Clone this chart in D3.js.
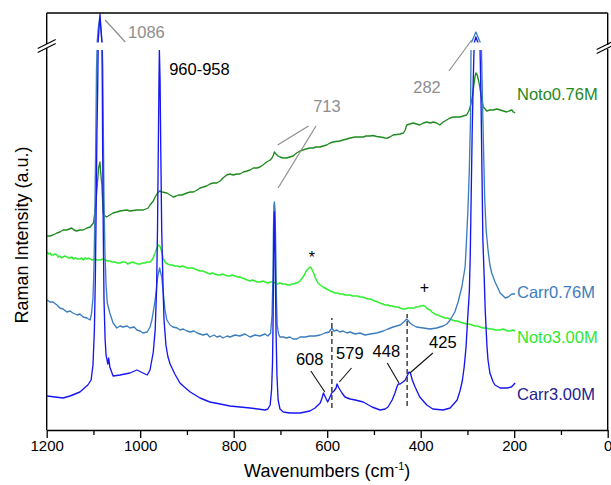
<!DOCTYPE html>
<html>
<head>
<meta charset="utf-8">
<script src="https://cdn.jsdelivr.net/npm/d3@7"></script>
<style>
  html, body { margin: 0; padding: 0; background: #fff; }
  svg { display: block; font-family: "Liberation Sans", Arial, Helvetica, sans-serif; }
</style>
</head>
<body>
<svg id="chart" width="611" height="485"></svg>
<script>
// Raman spectra: [wavenumber (cm-1), intensity (a.u., offset traces)].
// The intensity axis is broken between 380 and 388.
const carr300 = [
  [1199,34],[1182,33],[1165,32],[1150,34],[1129,38],[1112,45],[1105,50],[1101,65],[1098,100],[1096,150],
  [1094,230],[1092.5,300],[1091,340],[1090,380],[1090,388],[1088,402],[1086,416],[1084,402],[1082,388],
  [1081.7,380],[1081,340],[1080.4,290],[1079,200],[1077.4,130],[1075,90],[1073,75],[1071,70],[1069,66],
  [1067.5,72],[1065.7,66],[1065,63],[1058,54],[1043,55],[1022,57],[1007,60],[994,57],[985,55],[979,60],
  [972,78],[968,100],[965,140],[963,200],[961.3,280],[959.8,350],[959,380],[957.5,350],[956,280],[954,200],
  [951,140],[949,110],[945,85],[940.6,73],[936,66],[932,62],[926,56],[921,52],[915,47],[908,44],[893,38],
  [872,32],[851,28],[829,26],[808,24],[765,22],[733,20],[727,21],[722,25],[719,40],[717,67],[716,100],
  [715,150],[714,200],[713,218],[712,205],[711,160],[709.5,100],[707.5,55],[705,30],[701,21],[694,18],
  [680,17],[658,17],[637,19],[626,22],[615,27],[611,32],[608,37],[603,32],[599,28],[595,32],[590.4,37],
  [585.5,39],[581,42],[579,46],[575,42],[568.4,37],[562,33],[551,31],[540,30],[523,28],[504,23],[487,20],
  [476,21],[470,23],[461,30],[455,37],[451,43],[448,46],[444,46],[438,48],[433,50],[429,54],[425,58],
  [422,57],[418,50],[412,43],[402,33],[387,25],[374,21],[352,20],[337,22],[322,30],[316,39],[311,49],
  [307,63],[303,83],[300,108],[296,138],[294,175],[292,235],[290,295],[288,342],[286,380],[285,388],
  [282,393],[278,388],[273,380],[271,330],[269,260],[267,190],[264,150],[262,120],[260,100],[258,82],
  [256,70],[252,57],[245,48],[241,45],[230,42],[215,42],[206,43],[202,45],[198,47]
];

const carr076 = [
  [1199,130],[1193,128],[1186.5,128],[1178,125],[1172,122],[1165,121],[1157,118],[1150,119],[1144,117],
  [1135,115],[1129,116],[1122,113],[1114,112],[1107,110],[1104,117],[1101,132],[1099,160],[1097,215],
  [1095,290],[1093.5,360],[1092.4,380],[1092,388],[1089.6,402],[1086.5,412],[1084.3,402],[1081.7,388],
  [1081,380],[1080,360],[1078.7,290],[1077.4,230],[1075.3,175],[1073,145],[1070.4,127],[1065,117],
  [1058,107],[1050,102],[1043,104],[1037,103],[1028,104],[1022,102],[1013,103],[1007,100],[1000,99],
  [994,97],[985,98],[979,103],[975,110],[968,130],[962.6,153],[958.5,162],[954,153],[950.6,137],[947,120],
  [943,110],[936,105],[930,103],[921,102],[915,100],[908,101],[900,99],[893,98],[885,99],[878,97],[872,96],
  [866,95],[857,96],[851,93],[842,95],[836,93],[829,94],[823,92],[814,94],[808,93],[797,95],[787,94],
  [776,96],[765,93],[754.5,95],[744,94],[733,96],[727,94],[721,97],[718,115],[716,155],[715,200],[714,225],
  [713,228],[711.5,220],[710,180],[708.5,130],[707,105],[704,96],[701,93],[694,93],[687,92],[680,93],
  [673,91],[665,91],[658,93],[647,93],[637,94],[626,94],[615,95],[605,97],[596,98],[590,102],[585.5,99],
  [579,100],[573,98],[566,99],[558,97],[551,98],[540,96],[530,97],[519,95],[508,96],[494,97],[487,98],
  [480,99],[470,101],[459,103],[444,105],[436,108],[430,111],[426,109],[423,107],[417,105],[409,103],
  [394.5,102],[380,101],[366,102],[352,104],[344,106],[337,110],[327,118],[320,128],[312,143],[305,163],
  [302,190],[299,220],[296,260],[293.5,310],[292.4,380],[291,388],[282,398],[273,388],[270,380],[267,310],
  [265,270],[263,230],[260,200],[256,180],[252,165],[248,157],[241,148],[230,137],[219,132],[213,133],
  [205,136],[198,136]
];

const noto300 = [
  [1199,178],[1196,176],[1193,177],[1190,175],[1186.5,175],[1182,176],[1178,175],[1175,173],[1172,174],
  [1168,172],[1165,173],[1161,174],[1157,173],[1154,172],[1150,172],[1146,173],[1143,171],[1139,172],
  [1134,171],[1129,171],[1125,172],[1122,170],[1118,172],[1114,171],[1110,172],[1107,171],[1102,170],
  [1097,171],[1092,170],[1086,170],[1080,171],[1075,170],[1070,169],[1065,169],[1060,168],[1054,168],
  [1049,167],[1043,167],[1038,168],[1032,168],[1027,166],[1022,167],[1016,168],[1011,167],[1005,166],
  [1000,166],[995,167],[990,167],[985,168],[979,168],[975,170],[972,172],[970,175],[968,177],[966,180],
  [964,182],[962.5,184],[961,185],[958,184],[956.5,182],[955,180],[953,176],[951,172],[948,169],[945,167],
  [941,166],[936,165],[931,165],[926,164],[920,164],[915,163],[910,164],[904,163],[899,162],[893,162],
  [888,162],[883,161],[878,160],[872,159],[866,159],[861,158],[856,157],[851,156],[846,157],[840,156],
  [835,155],[829,155],[824,156],[819,155],[813,154],[808,154],[803,155],[797,154],[792,153],[787,153],
  [782,152],[776,151],[771,150],[765,149],[760,150],[754.5,149],[749,148],[744,148],[738,149],[733,148],
  [727,147],[722,148],[716,148],[711,147],[706,146],[701,147],[695,146],[690,146],[685,145],[680,145],
  [675,146],[671,146],[668,147],[665,147],[661,148],[658,149],[655,151],[652,153],[649,155],[647,157],
  [645,159],[643,160],[641,161],[639,162],[636,163],[634,162],[633,161],[630,158],[628,156],[626,153],
  [624,151],[622,149],[620,147],[617,146],[615,145],[612,144],[609,143],[605,142],[601,141],[597,140],
  [594,139],[588,138],[583,137],[578,137],[573,136],[567,136],[562,135],[556,135],[551,135],[546,134],
  [540,134],[535,134],[530,133],[524,133],[519,132],[513,131],[508,131],[503,130],[498,129],[492,128],
  [487,127],[481,126],[476,125],[470,125],[465,124],[460,124],[455,123],[449,123],[444,122],[438,121],
  [433,121],[428,122],[423,122],[418,122],[414,122],[411,123],[408,123],[405,123],[402,124],[398,124],
  [395,124.5],[392,124],[389,123],[385,121],[380,120],[376,118],[373,117],[369,116],[366,115],[362,115],
  [359,114],[353,113],[348,112],[343,112],[337,111],[332,110],[327,109],[321,109],[316,108],[309,107],
  [302,106],[296,106],[290,105],[284,104],[279,104],[273,103],[267,102],[260,102],[252,101],[246,101],
  [241,100],[235,100],[230,100],[224,101],[219,100],[214,99],[209,99],[203,100],[198,99]
];

const noto076 = [
  [1199,194],[1193,194],[1186.5,195],[1178,197],[1172,198],[1165,200],[1157,200],[1146.5,202],[1141.6,200],
  [1136,199],[1129,200],[1122,200],[1114,202],[1107,203],[1100,207],[1097,218],[1093.5,235],[1091,250],
  [1089,262],[1086,268],[1085,260],[1082,245],[1080.6,230],[1079,217],[1075,214],[1072,213],[1065,215],
  [1058,217],[1050,218],[1043,219],[1029,220],[1022,219],[1007.5,220],[993,220],[983,222],[979,225],
  [972,229],[968,233],[963,237],[958.5,239],[953,238],[943,237],[936,235],[929,233],[923,234],[918.5,235],
  [911,235],[900,237],[893,238],[886,238],[878,240],[872,242],[865,243],[858,244],[851,246],[844,247],
  [836,247],[829,249],[823,252],[815,255],[808,256],[801,255],[793,256],[787,256],[779.5,258],[771.5,259],
  [765,260],[758,262],[750,262],[744,263],[737.5,265],[729.5,268],[722,270],[718,272],[715,275],[713,278],
  [709.6,276],[705,274],[701,273],[694,272],[687,272],[680,273],[673,274],[665.5,277],[658,279],[652,280],
  [645.5,281],[637,282],[630,282],[624,283],[615,283],[609,284],[601,285],[594,287],[587,288],[581,288.5],
  [573,289],[566,290],[558,291],[551,292],[540,293],[530,293],[523,293],[517,294],[508,294],[502,294.5],
  [494,293.5],[487,293],[480,292.5],[473,291.7],[466,293],[459,295],[451,295.5],[444,296],[437,297],
  [433,300],[430,305],[423,306],[416,307],[409,306],[402,305],[394.5,307],[387,308],[380,307],[373,308],
  [366,307],[359,305],[352,308],[344.5,310],[337,312],[330,313],[323,313],[316,313],[309,314],[302,315],
  [297,319],[292.4,326],[289,335],[286,346],[284,353],[282,357],[279,355],[275.5,348],[272,338],[269,329],
  [266,323],[262,321],[259,319],[252,320],[245,320],[237,321],[230,320],[223,319],[216,318],[211,319],
  [205,320],[202,318],[198,317]
];

// Axis ticks
const xMajorTicks = [1200, 1000, 800, 600, 400, 200, 0];
const xMinorTicks = [1100, 900, 700, 500, 300, 100];

// Trace names and where their names are written (wavenumber, intensity)
const traceNames = ["Noto0.76M", "Noto3.00M", "Carr0.76M", "Carr3.00M"];
const traceNamePos = [[194, 330], [194, 87], [194, 132], [194, 30]];

// Peak assignments: label text and position, leader lines
const peakText = ["1086", "960-958", "713", "282", "608", "579", "448", "425"];
const peakTextPos = [[1026, 392], [938, 355], [630, 318], [416, 337], [667, 65], [581, 71], [503, 73], [382, 82]];
const peakTextGray = [true, false, true, true, false, false, false, false];
const grayLeaders = [
  [[1075, 410], [1032, 388]],
  [[706, 285], [640, 304]],
  [[705, 242], [624, 304]],
  [[339.5, 359], [291, 390]]
];
const blackLeaders = [
  [[635, 59], [605, 38]],
  [[548, 62], [574, 48]],
  [[471.5, 67], [446.5, 47]],
  [[374, 77], [423, 57]]
];
const dashedMarks = [[590, 22, 112], [429, 24, 116]];
const bandSymbols = ["*", "+"];
const bandSymbolPos = [[633, 167], [392, 137]];

// ---- drawing ----
const svg = d3.select("#chart");
const x = d3.scaleLinear().domain([1200, 0]).range([46.7, 607.7]);
const y = d3.scaleLinear().domain([0, 417]).range([430, 13]);
const breakLo = 380, breakHi = 388;

const colors = {
  "Noto0.76M": "#1f8a1f",
  "Noto3.00M": "#2ff02f",
  "Carr0.76M": "#3b7dbe",
  "Carr3.00M": "#1616f2"
};
const labelColors = {
  "Noto0.76M": "#1f8a1f",
  "Noto3.00M": "#2ee82e",
  "Carr0.76M": "#3b7dbe",
  "Carr3.00M": "#222290"
};
const traceData = {
  "Noto0.76M": noto076,
  "Noto3.00M": noto300,
  "Carr0.76M": carr076,
  "Carr3.00M": carr300
};
const gray = "#8e8e8e";

svg.append("defs").append("clipPath").attr("id", "plotClip")
  .append("rect")
  .attr("x", x(1200)).attr("y", y(417))
  .attr("width", x(0) - x(1200)).attr("height", y(0) - y(417));

const line = d3.line().x(d => x(d[0])).y(d => y(d[1]));

const plot = svg.append("g").attr("clip-path", "url(#plotClip)");
traceNames.forEach(name => {
  plot.append("path")
    .datum(traceData[name])
    .attr("fill", "none")
    .attr("stroke", colors[name])
    .attr("stroke-width", name === "Noto3.00M" ? 1.5 : 1.35)
    .attr("stroke-linejoin", "round")
    .attr("d", line);
});

// gap of the broken intensity axis
plot.append("rect")
  .attr("x", x(1200) + 1).attr("width", x(0) - x(1200) - 2)
  .attr("y", y(breakHi) + 0.5).attr("height", y(breakLo) - y(breakHi) - 0.5)
  .attr("fill", "#fff");

// frame
const frame = svg.append("g").attr("stroke", "#000").attr("stroke-width", 1.4).attr("fill", "none");
const x0 = x(1200), x1 = x(0), yT = y(417), yB = y(0);
const yCut = (y(breakHi) + y(breakLo)) / 2;
frame.append("line").attr("x1", x0).attr("x2", x1).attr("y1", yT).attr("y2", yT);
frame.append("line").attr("x1", x0).attr("x2", x0).attr("y1", yT).attr("y2", yCut - 2);
frame.append("line").attr("x1", x0).attr("x2", x0).attr("y1", yCut + 2).attr("y2", yB);
frame.append("line").attr("x1", x1).attr("x2", x1).attr("y1", yT).attr("y2", yCut - 1);
frame.append("line").attr("x1", x1).attr("x2", x1).attr("y1", yCut + 3).attr("y2", yB);

// break marks on both vertical axes
function breakMark(cx, cy) {
  const g = svg.append("g").attr("stroke", "#000").attr("stroke-width", 1.2);
  [-2, 2].forEach(off => {
    g.append("line")
      .attr("x1", cx - 9).attr("y1", cy + off + 4.5)
      .attr("x2", cx + 9).attr("y2", cy + off - 4.5);
  });
}
breakMark(x0, yCut);
breakMark(x1 - 2, yCut + 1);

// bottom axis with major and minor ticks
const axisG = svg.append("g").attr("transform", `translate(0,${yB})`);
axisG.call(d3.axisBottom(x).tickValues(xMajorTicks).tickSize(8).tickPadding(2).tickSizeOuter(0).tickFormat(d3.format("d")));
axisG.select(".domain").attr("stroke", "#000").attr("stroke-width", 1.4);
axisG.selectAll(".tick line").attr("stroke", "#000").attr("stroke-width", 1.3);
axisG.selectAll(".tick text").attr("font-size", 15).attr("fill", "#000")
  .attr("font-family", '"Liberation Sans", Arial, sans-serif');
const minorG = svg.append("g").attr("transform", `translate(0,${yB})`);
minorG.call(d3.axisBottom(x).tickValues(xMinorTicks).tickSize(5).tickFormat(""));
minorG.select(".domain").remove();
minorG.selectAll(".tick line").attr("stroke", "#000").attr("stroke-width", 1.3);

// axis titles
const xt = svg.append("text")
  .attr("x", (x0 + x1) / 2).attr("y", 477)
  .attr("text-anchor", "middle").attr("font-size", 18).attr("fill", "#000");
xt.append("tspan").text("Wavenumbers (cm");
xt.append("tspan").attr("font-size", 11).attr("dy", -7).text("-1");
xt.append("tspan").attr("dy", 7).text(")");

svg.append("text")
  .attr("transform", "translate(28,235) rotate(-90)")
  .attr("text-anchor", "middle").attr("font-size", 18).attr("fill", "#000")
  .text("Raman Intensity (a.u.)");

// trace names
traceNames.forEach((name, i) => {
  svg.append("text")
    .attr("x", x(traceNamePos[i][0])).attr("y", y(traceNamePos[i][1]))
    .attr("font-size", 16.5).attr("fill", labelColors[name])
    .text(name);
});

// peak leaders and labels
grayLeaders.forEach(seg => {
  svg.append("line")
    .attr("x1", x(seg[0][0])).attr("y1", y(seg[0][1]))
    .attr("x2", x(seg[1][0])).attr("y2", y(seg[1][1]))
    .attr("stroke", gray).attr("stroke-width", 1.2);
});
blackLeaders.forEach(seg => {
  svg.append("line")
    .attr("x1", x(seg[0][0])).attr("y1", y(seg[0][1]))
    .attr("x2", x(seg[1][0])).attr("y2", y(seg[1][1]))
    .attr("stroke", "#111").attr("stroke-width", 1.1);
});
peakText.forEach((t, i) => {
  svg.append("text")
    .attr("x", x(peakTextPos[i][0])).attr("y", y(peakTextPos[i][1]))
    .attr("font-size", 16.5).attr("fill", peakTextGray[i] ? gray : "#000")
    .text(t);
});
dashedMarks.forEach(d => {
  svg.append("line")
    .attr("x1", x(d[0])).attr("x2", x(d[0]))
    .attr("y1", y(d[1])).attr("y2", y(d[2]))
    .attr("stroke", "#333").attr("stroke-width", 1.4)
    .attr("stroke-dasharray", "5,3");
});
bandSymbols.forEach((s, i) => {
  svg.append("text")
    .attr("x", x(bandSymbolPos[i][0])).attr("y", y(bandSymbolPos[i][1]))
    .attr("text-anchor", "middle").attr("font-size", 16).attr("fill", "#000")
    .text(s);
});
</script>
</body>
</html>
